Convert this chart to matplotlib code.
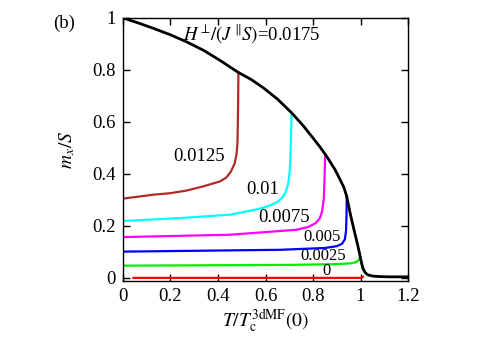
import matplotlib
matplotlib.use("Agg")
import matplotlib.pyplot as plt

plt.rcParams["font.family"] = ["Liberation Serif", "DejaVu Serif"]
plt.rcParams["mathtext.fontset"] = "stix"

# ==============================
# data
# ==============================
# black: H/(JS) = 0.0175
t_black = [0.0, 0.06, 0.128, 0.2, 0.268, 0.34, 0.408, 0.486, 0.54, 0.591, 0.65,
           0.71, 0.76, 0.80, 0.83, 0.858, 0.893, 0.914, 0.93, 0.942, 0.956, 0.97,
           0.984, 0.995, 1.0, 1.005, 1.01, 1.02, 1.03, 1.05, 1.08, 1.12, 1.2]
m_black = [1.0, 0.982, 0.96, 0.935, 0.908, 0.875, 0.837, 0.79, 0.763, 0.731,
           0.688, 0.635, 0.584, 0.538, 0.503, 0.467, 0.416, 0.378, 0.348, 0.313,
           0.25, 0.195, 0.142, 0.098, 0.075, 0.055, 0.036, 0.02, 0.012, 0.007,
           0.005, 0.004, 0.004]

t_0125 = [0.0, 0.06, 0.128, 0.2, 0.268, 0.338, 0.408, 0.435, 0.455, 0.47, 0.478,
          0.482, 0.484, 0.486]
m_0125 = [0.305, 0.312, 0.32, 0.326, 0.336, 0.352, 0.371, 0.386, 0.41, 0.44,
          0.475, 0.52, 0.62, 0.79]

t_01 = [0.0, 0.24, 0.45, 0.55, 0.59, 0.62, 0.65, 0.67, 0.685, 0.695, 0.702,
        0.706, 0.71]
m_01 = [0.219, 0.23, 0.243, 0.261, 0.27, 0.279, 0.292, 0.308, 0.33, 0.36,
        0.41, 0.5, 0.635]

t_0075 = [0.0, 0.45, 0.73, 0.78, 0.81, 0.828, 0.838, 0.845, 0.848, 0.851]
m_0075 = [0.157, 0.166, 0.185, 0.196, 0.21, 0.228, 0.255, 0.3, 0.37, 0.467]

t_005 = [0.0, 0.66, 0.85, 0.9, 0.922, 0.934, 0.939, 0.941, 0.942]
m_005 = [0.101, 0.108, 0.115, 0.122, 0.131, 0.148, 0.18, 0.24, 0.313]

t_0025 = [0.0, 0.7, 0.9, 0.96, 0.98, 0.99, 0.996, 1.0, 1.006, 1.02]
m_0025 = [0.047, 0.05, 0.053, 0.056, 0.06, 0.066, 0.075, 0.08, 0.05, 0.02]

t_0 = [0.044, 0.5, 1.0, 1.01]
m_0 = [0.0, 0.0, 0.0, 0.004]

curves = [
    ("0.0125", t_0125, m_0125, "#b02a2a", (0.32, 0.466), 13.5),
    ("0.01", t_01, m_01, "#00ffff", (0.59, 0.339), 13.5),
    ("0.0075", t_0075, m_0075, "#ff00ff", (0.678, 0.231), 13.5),
    ("0.005", t_005, m_005, "#0000ff", (0.836, 0.158), 12),
    ("0.0025", t_0025, m_0025, "#00ee00", (0.844, 0.085), 12),
    ("0", t_0, m_0, "#ff0000", (0.857, 0.027), 12),
]

# ==============================
# plot
# ==============================
fig = plt.figure(figsize=(4.91, 3.45), dpi=100)
ax = fig.add_axes([0.2505, 0.1855, 0.5805, 0.7625])

for label, t, m, c, pos, fs in curves:
    ax.plot(t, m, color=c, lw=1.6, solid_joinstyle="round")
    ax.text(pos[0], pos[1], label, fontsize=fs, ha="center", va="center")

ax.plot(t_black, m_black, color="black", lw=2.0, solid_joinstyle="round")

ax.text(0.541, 0.936, r"$H^{\perp}\!/(J^{\parallel}\!S)$=0.0175", fontsize=13.5,
        ha="center", va="center")

ax.set_xlim(0, 1.2)
ax.set_ylim(-0.012, 1.0)
ax.set_xticks([0, 0.2, 0.4, 0.6, 0.8, 1.0, 1.2])
ax.set_xticklabels(["0", "0.2", "0.4", "0.6", "0.8", "1", "1.2"])
ax.set_yticks([0, 0.2, 0.4, 0.6, 0.8, 1.0])
ax.set_yticklabels(["0", "0.2", "0.4", "0.6", "0.8", "1"])
ax.tick_params(direction="in", top=True, right=True, length=5, width=1,
               labelsize=13.5, pad=5)
for s in ax.spines.values():
    s.set_linewidth(1.0)

ax.set_xlabel(r"$T/T_{\mathrm{c}}^{\mathrm{3dMF}}(0)$", fontsize=14)
ax.set_ylabel(r"$m_x/S$", fontsize=14)
ax.xaxis.set_label_coords(0.5, -0.1)
ax.yaxis.set_label_coords(-0.16, 0.5)

fig.text(64 / 491, 1 - 23 / 345, "(b)", fontsize=13.5, ha="center", va="center")

fig.savefig("out.png", dpi=100)
